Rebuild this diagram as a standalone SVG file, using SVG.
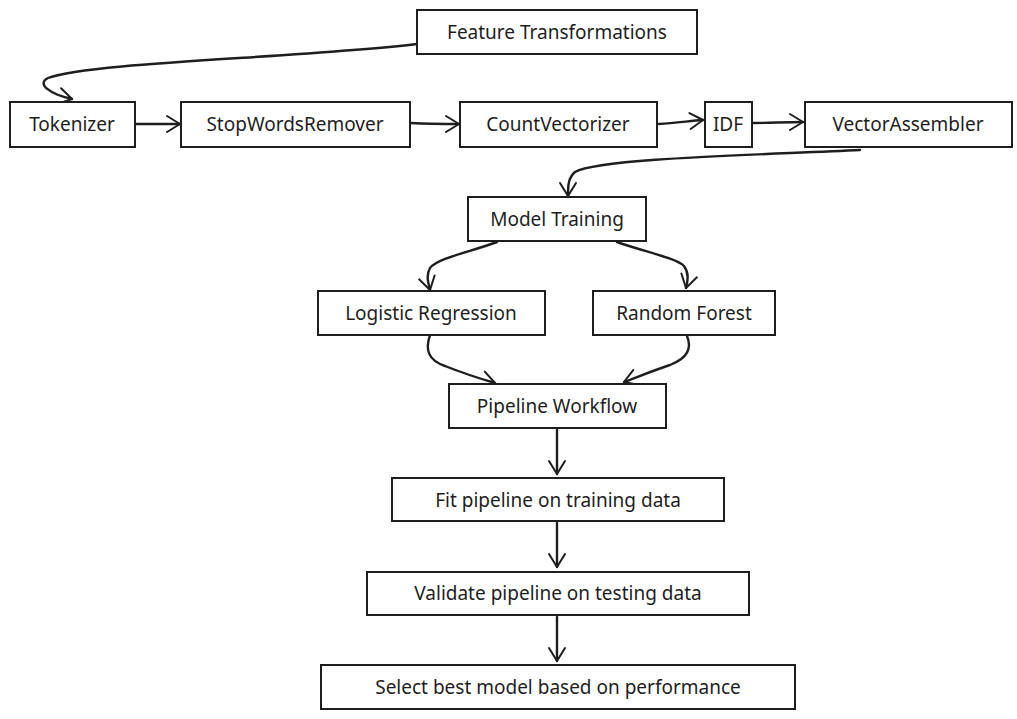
<svg xmlns="http://www.w3.org/2000/svg" width="1017" height="719" viewBox="0 0 1017 719">
<defs>
<marker id="ah" markerWidth="20" markerHeight="20" refX="15" refY="10" orient="auto" markerUnits="userSpaceOnUse">
<path d="M2,2 L15,10 L2,18" fill="none" stroke="#1e1e1e" stroke-width="2" stroke-linecap="round" stroke-linejoin="round"/>
</marker>
</defs>
<style>
.box{fill:#ffffff;stroke:#1e1e1e;stroke-width:2}
.lbl{font-family:"Noto Sans","Open Sans",sans-serif;font-size:19px;fill:#1e1e1e;text-anchor:middle;dominant-baseline:central}
.c{fill:none;stroke:#1e1e1e;stroke-width:2.4;stroke-linecap:round;marker-end:url(#ah)}
</style>
<rect width="1017" height="719" fill="#ffffff"/>
<g id="connectors">
<path class="c" d="M417,44 C300,58 90,62 48,78 C36,84 50,94 72,99"/>
<path class="c" d="M136,124 L180,124"/>
<path class="c" d="M411,123 C430,124 445,124 459,124"/>
<path class="c" d="M659,124 C675,123 690,121 703,120"/>
<path class="c" d="M753,123 C770,123 785,122 803,122"/>
<path class="c" d="M860,150 C760,155 600,158 575,172 C568,178 568,186 568,196"/>
<path class="c" d="M497,242 C470,252 438,258 430,268 C426,275 428,282 430,290"/>
<path class="c" d="M617,242 C645,252 676,258 684,266 C689,273 688,280 686,288"/>
<path class="c" d="M430,335 C425,350 428,360 445,366 C460,372 478,378 495,383"/>
<path class="c" d="M687,336 C692,348 688,358 670,365 C655,370 640,376 624,382"/>
<path class="c" d="M557,430 L557,474"/>
<path class="c" d="M557,523 L557,567"/>
<path class="c" d="M557,617 L557,661"/>
</g>
<g id="n-feature"><rect class="box" x="417" y="10" width="280" height="44"/><text class="lbl" x="557" y="32">Feature Transformations</text></g>
<g id="n-tokenizer"><rect class="box" x="10" y="102" width="125" height="45"/><text class="lbl" x="72" y="124">Tokenizer</text></g>
<g id="n-stopwords"><rect class="box" x="181" y="102" width="229" height="45"/><text class="lbl" x="295" y="124">StopWordsRemover</text></g>
<g id="n-countvec"><rect class="box" x="460" y="102" width="197" height="45"/><text class="lbl" x="558" y="124">CountVectorizer</text></g>
<g id="n-idf"><rect class="box" x="705" y="102" width="47" height="45"/><text class="lbl" x="728" y="124">IDF</text></g>
<g id="n-vecasm"><rect class="box" x="805" y="102" width="207" height="45"/><text class="lbl" x="908" y="124">VectorAssembler</text></g>
<g id="n-modeltrain"><rect class="box" x="468" y="197" width="178" height="44"/><text class="lbl" x="557" y="219">Model Training</text></g>
<g id="n-logreg"><rect class="box" x="318" y="291" width="227" height="44"/><text class="lbl" x="431" y="313">Logistic Regression</text></g>
<g id="n-rf"><rect class="box" x="593" y="291" width="182" height="44"/><text class="lbl" x="684" y="313">Random Forest</text></g>
<g id="n-pipeline"><rect class="box" x="449" y="384" width="217" height="44"/><text class="lbl" x="557" y="406">Pipeline Workflow</text></g>
<g id="n-fit"><rect class="box" x="392" y="478" width="332" height="43"/><text class="lbl" x="558" y="500">Fit pipeline on training data</text></g>
<g id="n-validate"><rect class="box" x="367" y="572" width="382" height="43"/><text class="lbl" x="558" y="593">Validate pipeline on testing data</text></g>
<g id="n-select"><rect class="box" x="321" y="665" width="474" height="44"/><text class="lbl" x="558" y="687">Select best model based on performance</text></g>
</svg>
